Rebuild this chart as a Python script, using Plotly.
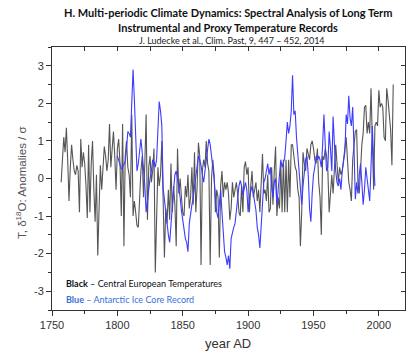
import plotly.graph_objects as go

# Central European temperatures (annual anomalies / sigma), 1757-2011
cet_start = 1757
cet_values = [
    -0.1, 0.6, 1.1, 0.7, 1.35, 0.5, -0.6, 0.3, 0.9, 0.5,          # 1757-1766
    0.2, 0.1, 0.35, 0.2, -0.9, 1.05, 0.3, 0.7, 0.4, -0.2,          # 1767-1776
    -1.05, 0.9, -0.9, 0.4, 1.0, -0.3, -1.15, 0.1, -2.05, -0.8,     # 1777-1786
    0.35, -0.3, 0.2, 0.85, 0.6, 0.2, 0.5, 1.45, 0.3, 0.9,          # 1787-1796
    1.25, 0.6, -0.3, 0.8, 1.05, 0.4, -1.0, 1.45, -1.8, 0.6,        # 1797-1806
    1.0, 0.3, 0.1, -0.5, 1.7, -1.0, -0.6, -0.9, -1.25, -1.3,       # 1807-1816
    -0.4, 0.2, 0.6, -0.5, 0.4, 1.7, -1.1, 0.3, 0.6, -0.1,          # 1817-1826
    0.2, 0.8, -2.5, -0.7, 0.3, -0.2, 0.1, 1.0, -0.4, -2.1,         # 1827-1836
    -0.8, -1.2, -0.3, -1.1, 0.4, -0.9, -0.2, -0.7, -1.8, 0.8,      # 1837-1846
    -0.4, 0.0, -0.5, -0.9, -1.0, -0.2, -0.5, 0.1, -0.8, -0.5,      # 1847-1856
    0.3, -0.7, 0.7, -0.9, -0.2, 0.95, 0.6, -2.3, 0.2, 0.5,         # 1857-1866
    0.3, 1.0, 0.4, 0.2, -2.3, 0.0, 0.5, 0.1, -0.9, -0.3,           # 1867-1876
    -0.5, -2.1, -0.2, 0.2, -0.5, -0.1, -0.3, -0.1, -0.4, -1.1,     # 1877-1886
    -0.8, -0.1, -0.5, -0.3, -0.1, -0.4, -0.9, -1.0, -0.2, -0.9,    # 1887-1896
    0.3, 0.45, 0.1, 0.3, -0.9, -0.2, 0.2, -0.5, -0.3, -0.1,        # 1897-1906
    -0.6, -0.3, -0.9, -0.2, 0.65, -0.4, -0.3, -0.6, 0.1, -0.9,     # 1907-1916
    -0.8, 0.3, -0.7, 0.2, 0.85, -1.0, -0.5, -0.8, 0.4, -0.9,       # 1917-1926
    0.5, -0.9, 0.5, -0.9, 0.5, -0.5, 0.9, 0.9, 0.6, 0.3,           # 1927-1936
    0.2, -0.3, -0.5, -1.8, -0.9, 0.7, 0.4, 0.2, 0.8, 0.6,          # 1937-1946
    0.5, 0.9, 1.0, 0.8, 0.5, 0.4, 0.8, -0.1, -0.5, -1.5,           # 1947-1956
    0.6, 0.5, 0.8, 0.6, 0.2, -0.9, -0.2, 0.1, -0.4, 0.4,           # 1957-1966
    0.9, 0.4, -0.1, 0.3, 0.1, 0.2, 0.6, 0.8, 1.1, 0.6,             # 1967-1976
    -0.1, -0.3, -0.6, 0.5, 0.8, 1.25, 1.3, -0.1, -0.4, 0.3,        # 1977-1986
    0.9, 1.2, 1.9, 1.95, 1.2, 1.5, 1.2, 2.4, 1.2, -0.3,            # 1987-1996
    1.4, 1.5, 1.4, 2.35, 1.9, 2.0, 1.9, 1.1, 1.0, 2.4,             # 1997-2006
    2.1, 1.6, 1.3, 0.35, 2.5,                                      # 2007-2011
]
cet_years = list(range(cet_start, cet_start + len(cet_values)))

# Antarctic ice core d18O record (anomalies / sigma), 1800-1997
ice_start = 1800
ice_values = [
    0.6, 0.5, 0.35, 0.25, 0.3, 0.4, 0.45, 0.8, 1.25, 1.2,          # 1800-1809
    1.1, 2.0, 2.9, 2.1, 1.0, 0.2, 0.4, 0.8, 1.05, 0.7,             # 1810-1819
    0.35, -0.2, -0.9, -0.6, -0.2, 0.0, 0.2, 0.5, 0.45, 0.3,        # 1820-1829
    0.5, 1.2, 2.05, 1.8, 1.4, -0.25, -0.6, -0.9, -1.2, -1.5,       # 1830-1839
    -1.7, -1.2, -0.6, -0.3, 0.1, 0.2, 0.0, -0.2, -0.5, -0.85,      # 1840-1849
    -1.1, -1.3, -1.6, -1.7, -1.95, -1.2, -0.9, -0.7, -0.5, -0.25,  # 1850-1859
    0.0, 0.3, 0.6, 0.5, 0.35, 0.1, -0.1, 0.2, 0.5, 0.8,            # 1860-1869
    1.05, 0.9, 0.6, 0.3, 0.0, -0.5, -0.9, -1.05, -0.7, -0.3,       # 1870-1879
    -0.9, -1.5, -1.95, -2.1, -2.3, -2.05, -2.4, -1.6, -1.4, -1.3,  # 1880-1889
    -1.2, -0.8, -0.45, -0.2, -0.05, -0.2, -0.45, -0.3, -0.1, -0.3, # 1890-1899
    -0.9, -0.5, -0.3, -0.2, -0.4, -0.6, -0.85, -1.3, -1.5, -1.85,  # 1900-1909
    -1.2, -0.6, -0.1, 0.0, 0.2, 0.4, 0.1, 0.3, -0.2, -0.5,         # 1910-1919
    -0.1, 0.0, -0.7, -0.3, 0.2, 0.5, 0.3, 0.4, 0.55, 1.0,          # 1920-1929
    1.5, 1.2, 1.4, 1.8, 2.75, 1.7, 1.8, 1.1, 0.7, 0.3,             # 1930-1939
    -0.3, -0.7, -0.2, 0.2, 0.5, 0.6, 0.1, -0.8, -1.15, -0.4,       # 1940-1949
    0.1, 0.3, 0.6, 0.5, 0.6, 0.5, 0.3, 0.9, 1.7, 0.9,              # 1950-1959
    0.2, 0.3, 1.25, 0.8, 0.2, 1.65, 0.8, 0.2, -0.1, -0.2,          # 1960-1969
    0.0, -0.3, 0.2, 0.5, 0.7, 1.7, 1.45, 2.2, 1.6, 1.4,            # 1970-1979
    1.9, 0.8, -0.55, -0.1, -0.4, 0.1, 0.4, -0.1, -0.7, -0.3,       # 1980-1989
    0.3, 0.0, -0.4, -0.6, 0.3, 1.4, 0.5, -0.2,                     # 1990-1997
]
ice_years = list(range(ice_start, ice_start + len(ice_values)))

y_tickvals = [-3, -2, -1, 0, 1, 2, 3]
y_ticktext = ["-3", "-2", "-1", "0", "1", "2", "3"]
x_tickvals = [1750, 1800, 1850, 1900, 1950, 2000]

title_line1 = "H. Multi-periodic Climate Dynamics: Spectral Analysis of Long Term"
title_line2 = "Instrumental and Proxy Temperature Records"
title_line3 = "J. Ludecke et al., Clim. Past, 9, 447 \u2013 452, 2014"
x_title = "year AD"
y_title = "T, \u03b4<sup>18</sup>O: Anomalies / \u03c3"

fig = go.Figure()
fig.add_trace(go.Scatter(x=cet_years, y=cet_values, mode="lines",
                         line=dict(color="#555555", width=1.1),
                         showlegend=False, hoverinfo="skip"))
fig.add_trace(go.Scatter(x=ice_years, y=ice_values, mode="lines",
                         line=dict(color="#3c3cff", width=1.1),
                         xaxis="x2", yaxis="y2",
                         showlegend=False, hoverinfo="skip"))

xr = [1750, 2020]
yr = [-3.5, 3.5]
arial = "Liberation Sans, Arial, sans-serif"
tickfont = dict(family=arial, size=11, color="#333333")

fig.update_layout(
    width=420, height=354,
    margin=dict(l=52, r=15, t=47, b=44, autoexpand=False),
    paper_bgcolor="white", plot_bgcolor="white",
    xaxis=dict(range=xr, tickvals=x_tickvals, ticks="outside", ticklen=5,
               tickcolor="#333", showline=True, linecolor="#333", linewidth=1,
               mirror=True, showgrid=False, zeroline=False, tickfont=tickfont,
               automargin=False,
               minor=dict(dtick=25, ticks="outside", ticklen=3, tickcolor="#333")),
    yaxis=dict(range=yr, tickvals=y_tickvals, ticktext=y_ticktext, ticks="outside",
               ticklen=5, tickcolor="#333", showline=True, linecolor="#333",
               linewidth=1, mirror=True, showgrid=False, zeroline=False,
               tickfont=tickfont, automargin=False,
               minor=dict(dtick=0.5, tick0=0, ticks="outside", ticklen=3, tickcolor="#333")),
    xaxis2=dict(range=xr, overlaying="x", side="top", dtick=25, tick0=1750,
                ticks="inside", ticklen=4, tickcolor="#333", showticklabels=False,
                showgrid=False, zeroline=False, showline=False, automargin=False),
    yaxis2=dict(range=yr, overlaying="y", side="right", dtick=0.5, tick0=0,
                ticks="inside", ticklen=4, tickcolor="#333", showticklabels=False,
                showgrid=False, zeroline=False, showline=False, automargin=False),
)

title_font = "Lato, Open Sans, sans-serif"
ph = 354 - 47 - 44
pw = 420 - 52 - 15
fig.add_annotation(text="<b>" + title_line1 + "</b>", xref="paper", yref="paper",
                   x=(228 - 52) / pw, y=1 + 35 / ph, xanchor="center", yanchor="middle",
                   showarrow=False, font=dict(family=title_font, size=11, color="#111"))
fig.add_annotation(text="<b>" + title_line2 + "</b>", xref="paper", yref="paper",
                   x=(228 - 52) / pw, y=1 + 20 / ph, xanchor="center", yanchor="middle",
                   showarrow=False, font=dict(family=title_font, size=11, color="#111"))
fig.add_annotation(text=title_line3, xref="paper", yref="paper",
                   x=(232 - 52) / pw, y=1 + 7 / ph, xanchor="center", yanchor="middle",
                   showarrow=False, font=dict(family=title_font, size=9, color="#222"))

fig.add_annotation(text=x_title, xref="paper", yref="paper",
                   x=(228 - 52) / pw, y=-(343 - 310) / ph, xanchor="center", yanchor="middle",
                   showarrow=False, font=dict(family=arial, size=13, color="#333"))
fig.add_annotation(text=y_title, xref="paper", yref="paper", textangle=-90,
                   x=-(52 - 21) / pw, y=(310 - 183) / ph, xanchor="center", yanchor="middle",
                   showarrow=False, font=dict(family=arial, size=11.5, color="#555"))

fig.add_annotation(text="<b>Black</b> \u2013 Central European Temperatures",
                   xref="paper", yref="paper", x=(64 - 52) / pw, y=(310 - 283) / ph,
                   xanchor="left", yanchor="middle", showarrow=False,
                   font=dict(family=title_font, size=9, color="#111"))
fig.add_annotation(text="<b>Blue</b> \u2013 Antarctic Ice Core Record",
                   xref="paper", yref="paper", x=(64 - 52) / pw, y=(310 - 299) / ph,
                   xanchor="left", yanchor="middle", showarrow=False,
                   font=dict(family=title_font, size=9, color="#3a6fd8"))

fig.write_html("out.html")
